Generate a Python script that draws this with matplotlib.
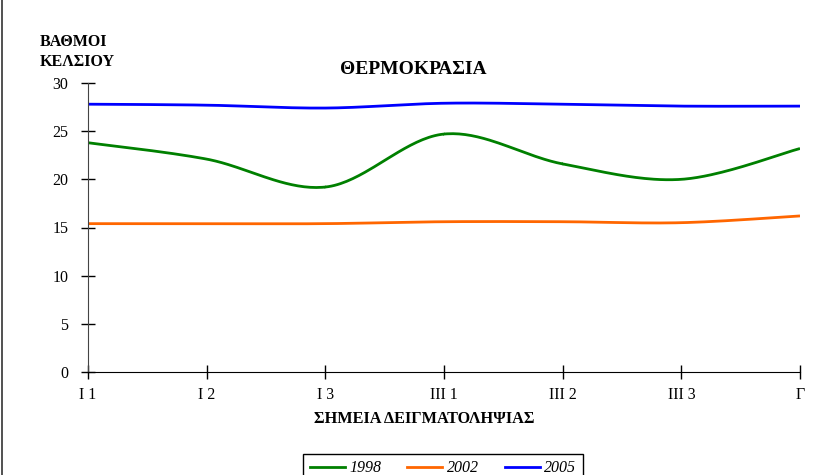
import numpy as np
import matplotlib as mpl
mpl.use("agg")
import matplotlib.pyplot as plt
from matplotlib.lines import Line2D

mpl.rcParams['font.family'] = ['Liberation Serif', 'DejaVu Serif']

# sampling points along the river and mean temperature per year
stations = ["I 1", "I 2", "I 3", "III 1", "III 2", "III 3", "Γ"]
years = ["1998", "2002", "2005"]
temp_1998 = [23.8, 22.1, 19.2, 24.7, 21.6, 20.0, 23.2]
temp_2002 = [15.4, 15.4, 15.4, 15.6, 15.6, 15.5, 16.2]
temp_2005 = [27.8, 27.7, 27.4, 27.9, 27.8, 27.6, 27.6]
colors = ["#008000", "#ff6600", "#0000ff"]


def smooth(y, n=40):
    # Catmull-Rom curve through the points, like a spreadsheet "smoothed line"
    y = np.asarray(y, float)
    x = np.arange(len(y), dtype=float)
    px = np.concatenate([[x[0]], x, [x[-1]]])
    py = np.concatenate([[y[0]], y, [y[-1]]])
    xs, ys = [], []
    t = np.linspace(0, 1, n)
    for i in range(1, len(px) - 2):
        for p, out in ((px, xs), (py, ys)):
            p0, p1, p2, p3 = p[i - 1], p[i], p[i + 1], p[i + 2]
            out.append(0.5 * (2 * p1 + (-p0 + p2) * t
                              + (2 * p0 - 5 * p1 + 4 * p2 - p3) * t ** 2
                              + (-p0 + 3 * p1 - 3 * p2 + p3) * t ** 3))
    return np.concatenate(xs), np.concatenate(ys)


fig = plt.figure(figsize=(8.22, 4.75), dpi=100)
ax = fig.add_axes([88 / 822, 1 - 372 / 475, 712 / 822, 289 / 475])

for vals, c in zip([temp_1998, temp_2002, temp_2005], colors):
    sx, sy = smooth(vals)
    ax.plot(sx, sy, color=c, lw=2.0, solid_capstyle="butt")

ax.set_xlim(0, len(stations) - 1)
ax.set_ylim(0, 30)
ax.set_xticks(range(len(stations)))
ax.set_xticklabels(stations)
ax.set_yticks(range(0, 31, 5))
ax.spines[['top', 'right']].set_visible(False)
ax.spines['left'].set_color("#444444")
ax.tick_params(axis='both', direction='inout', length=10, width=1, labelsize=11.5)
ax.tick_params(axis='x', pad=6)
ax.tick_params(axis='y', pad=9)

fig.text(40 / 822, 1 - 42 / 475, "ΒΑΘΜΟΙ", fontsize=11.5, weight="bold", va="center")
fig.text(40 / 822, 1 - 62 / 475, "ΚΕΛΣΙΟΥ", fontsize=11.5, weight="bold", va="center")
fig.text(413 / 822, 1 - 70 / 475, "ΘΕΡΜΟΚΡΑΣΙΑ", fontsize=14, weight="bold",
         ha="center", va="center")
fig.text(424 / 822, 1 - 419 / 475, "ΣΗΜΕΙΑ ΔΕΙΓΜΑΤΟΛΗΨΙΑΣ", fontsize=11.7,
         weight="bold", ha="center", va="center")

# chart area border on the left edge
fig.add_artist(Line2D([2 / 822, 2 / 822], [0, 1], color="#333333", lw=1.2))

handles = [Line2D([], [], color=c, lw=2.0) for c in colors]
leg = fig.legend(handles, years, loc="upper center", ncol=3,
                 bbox_to_anchor=(443 / 822, 1 - 446 / 475),
                 prop={'style': 'italic', 'size': 11.5}, frameon=True,
                 fancybox=False, framealpha=1, handlelength=2.2,
                 handletextpad=0.3, columnspacing=1.6, borderpad=0.4)
leg.get_frame().set_edgecolor("black")
leg.get_frame().set_linewidth(1.0)

fig.savefig("out.png", dpi=100)
